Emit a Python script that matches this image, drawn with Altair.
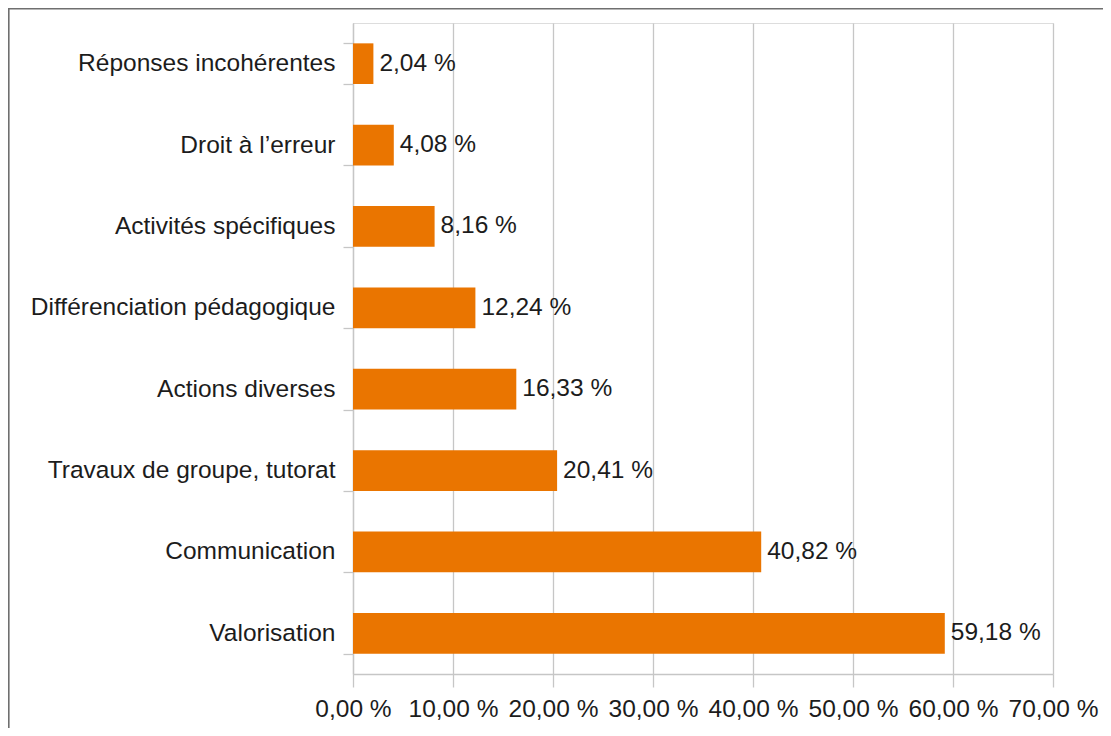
import altair as alt
import pandas as pd

categories = [
    "Réponses incohérentes",
    "Droit à l’erreur",
    "Activités spécifiques",
    "Différenciation pédagogique",
    "Actions diverses",
    "Travaux de groupe, tutorat",
    "Communication",
    "Valorisation",
]
values = [2.04, 4.08, 8.16, 12.24, 16.33, 20.41, 40.82, 59.18]
x_ticks = [0, 10, 20, 30, 40, 50, 60, 70]

labels = [f"{v:.2f}".replace(".", ",") + " %" for v in values]
df = pd.DataFrame({"cat": categories, "val": values, "lab": labels})

FONT = "Liberation Sans, Arial, sans-serif"
FS = 24.5
ORANGE = "#EA7500"
GRID = "#c6c6c6"
TXT = "#1c1c1c"

y_enc = alt.Y(
    "cat:N",
    sort=categories,
    scale=alt.Scale(paddingInner=0.5, paddingOuter=0.25),
    axis=alt.Axis(
        title=None,
        tickBand="extent",
        tickSize=10,
        tickColor=GRID,
        tickWidth=1.3,
        domainColor=GRID,
        domainWidth=1.3,
        labelPadding=8,
        labelFont=FONT,
        labelFontSize=FS,
        labelColor=TXT,
        labelLimit=400,
        grid=False,
    ),
)
x_enc = alt.X(
    "val:Q",
    scale=alt.Scale(domain=[0, 70], nice=False),
    axis=alt.Axis(
        title=None,
        values=x_ticks,
        tickSize=13,
        tickColor=GRID,
        tickWidth=1.3,
        domainColor=GRID,
        domainWidth=1.3,
        gridColor=GRID,
        gridWidth=1.3,
        labelPadding=10,
        labelFont=FONT,
        labelFontSize=FS,
        labelColor=TXT,
        labelExpr="replace(format(datum.value, '.2f'), '.', ',') + ' %'",
        labelOverlap=False,
        labelFlush=False,
    ),
)

bars = alt.Chart(df).mark_bar(color=ORANGE).encode(x=x_enc, y=y_enc)
text = alt.Chart(df).mark_text(
    align="left", baseline="middle", dx=6, font=FONT, fontSize=FS, color=TXT
).encode(x="val:Q", y=alt.Y("cat:N", sort=categories), text="lab:N")

frame = alt.Chart(alt.Data(values=[{"a": 1}])).mark_rect(
    fillOpacity=0, stroke="#6f6f6f", strokeWidth=1.6
).encode(
    x=alt.value(-344.2), x2=alt.value(900), y=alt.value(-14.2), y2=alt.value(900)
)

chart = (
    alt.layer(frame, bars, text)
    .properties(
        width=700,
        height=651,
        padding={"left": 345, "top": 15, "right": 50, "bottom": 54},
        autosize=alt.AutoSizeParams(type="none"),
    )
    .configure_view(stroke=GRID, strokeWidth=1.3)
    .configure(background="white")
)

chart.save("out.html", embed_options={"renderer": "svg", "actions": False})
